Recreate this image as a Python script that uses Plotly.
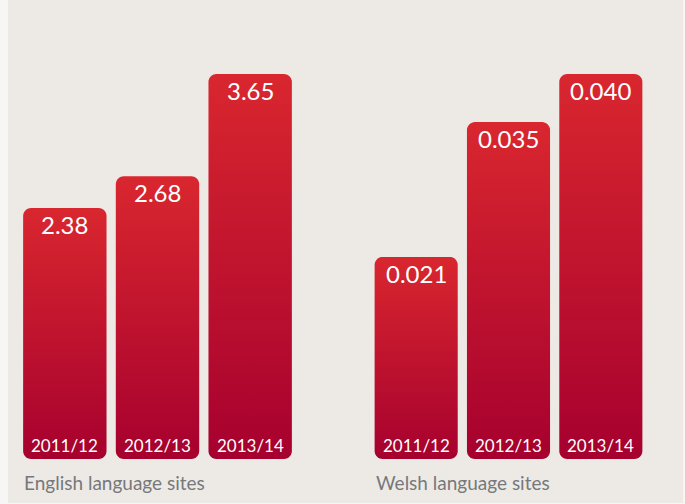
import numpy as np
import plotly.graph_objects as go

# ---- data ----
years = ["2011/12", "2012/13", "2013/14"]
english_values = [2.38, 2.68, 3.65]
english_labels = ["2.38", "2.68", "3.65"]
welsh_values = [0.021, 0.035, 0.040]
welsh_labels = ["0.021", "0.035", "0.040"]
group_titles = ["English language sites", "Welsh language sites"]

# ---- layout constants (pixels) ----
W, H = 685, 504
BASE_PX, TOP_PX = 459, 74          # baseline and top of tallest bar (from top)
EN_X = (18.5, 296.5)
WE_X = (370, 647)
BAR_W = 0.9                         # in category units
RADIUS_PX = 8
FONT = "Lato, 'Open Sans', sans-serif"
TOP_COL, BOT_COL = "#D9272F", "#A6002E"

ydom = [(H - BASE_PX) / H, (H - TOP_PX) / H]

fig = go.Figure()


def rounded_bar(xc, v, hw, rx, ry, n=8):
    xs, ys = [], []
    seq = [((xc - hw + rx, v - ry), 180, 90),
           ((xc + hw - rx, v - ry), 90, 0),
           ((xc + hw - rx, ry), 0, -90),
           ((xc - hw + rx, ry), -90, -180)]
    for (cx, cy), a0, a1 in seq:
        t = np.radians(np.linspace(a0, a1, n))
        xs.extend(cx + rx * np.cos(t))
        ys.extend(cy + ry * np.sin(t))
    xs.append(xs[0]); ys.append(ys[0])
    return xs, ys


groups = [
    (english_values, english_labels, EN_X, "x", "y"),
    (welsh_values, welsh_labels, WE_X, "x2", "y2"),
]

annotations = []
for gi, (vals, labels, xpx, xa, ya) in enumerate(groups):
    ymax = max(vals)
    px_per_x = (xpx[1] - xpx[0]) / 3.0
    px_per_y = (BASE_PX - TOP_PX) / ymax
    rx = RADIUS_PX / px_per_x
    ry = RADIUS_PX / px_per_y
    for i, v in enumerate(vals):
        xs, ys = rounded_bar(i, v, BAR_W / 2, rx, ry)
        fig.add_trace(go.Scatter(
            x=xs, y=ys, xaxis=xa, yaxis=ya, mode="none", fill="toself",
            fillgradient=dict(type="vertical",
                              colorscale=[[0, BOT_COL], [1, TOP_COL]]),
            hoverinfo="skip", showlegend=False))
        annotations.append(dict(
            x=i, y=v, xref=xa, yref=ya, text=labels[i], showarrow=False,
            yanchor="top", yshift=0,
            font=dict(family=FONT, size=24, color="white")))
        annotations.append(dict(
            x=i, y=0, xref=xa, yref=ya, text=years[i], showarrow=False,
            yanchor="bottom", yshift=1,
            font=dict(family=FONT, size=17, color="white")))
    annotations.append(dict(
        x=(xpx[0] + 3.5) / W if gi == 0 else (xpx[0] + 4) / W,
        y=(H - 482) / H, xref="paper", yref="paper",
        text=group_titles[gi], showarrow=False, xanchor="left",
        yanchor="middle", font=dict(family=FONT, size=19, color="#77787B")))

axis_off = dict(visible=False, showgrid=False, zeroline=False, fixedrange=True)
fig.update_layout(
    width=W, height=H,
    margin=dict(l=0, r=0, t=0, b=0),
    paper_bgcolor="#F7F6F4",
    plot_bgcolor="rgba(0,0,0,0)",
    hovermode=False,
    xaxis=dict(domain=[EN_X[0] / W, EN_X[1] / W], range=[-0.5, 2.5], **axis_off),
    yaxis=dict(domain=ydom, range=[0, max(english_values)], **axis_off),
    xaxis2=dict(domain=[WE_X[0] / W, WE_X[1] / W], range=[-0.5, 2.5], **axis_off),
    yaxis2=dict(domain=ydom, range=[0, max(welsh_values)], anchor="x2", **axis_off),
    annotations=annotations,
    shapes=[dict(type="rect", xref="paper", yref="paper",
                 x0=8 / W, x1=683 / W, y0=1 / H, y1=1,
                 fillcolor="#EDEAE6", line=dict(width=0), layer="below")],
)
fig.write_html(
    "out.html",
    config={"displayModeBar": False, "staticPlot": True},
    post_script="document.body.style.margin='0px';"
                "document.body.style.overflow='hidden';",
)
